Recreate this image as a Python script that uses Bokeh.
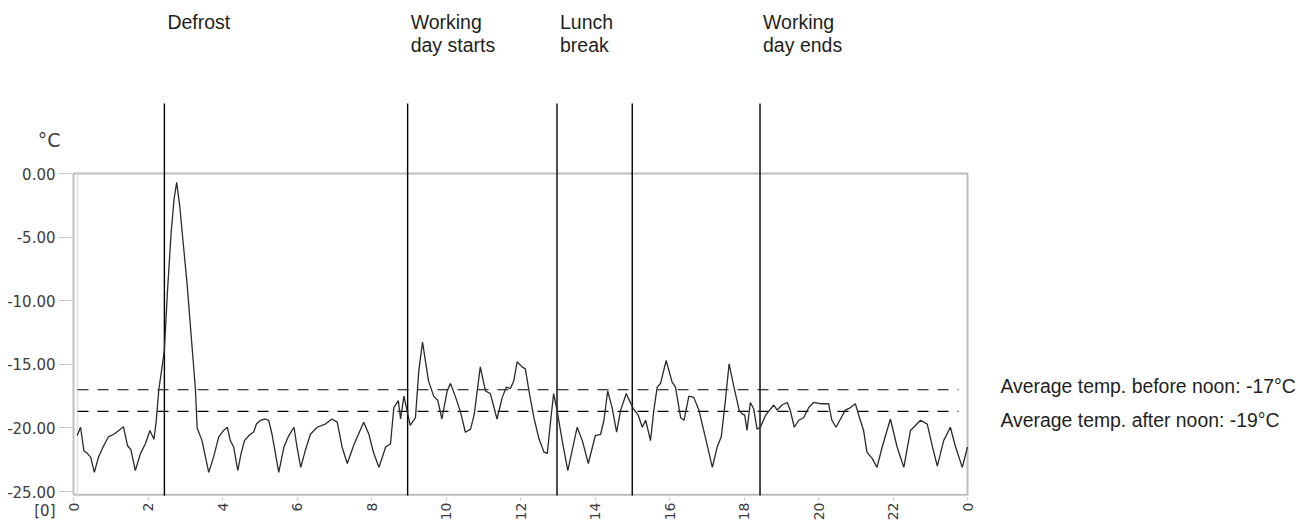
import math
from bokeh.plotting import figure
from bokeh.models import FixedTicker, NumeralTickFormatter, Range1d
from bokeh.core.properties import value
from bokeh.embed import file_html
from bokeh.resources import INLINE

# ---------------- data ----------------
hours = [0.10, 0.19, 0.28, 0.37, 0.46, 0.56, 0.67, 0.81, 0.94, 1.08, 1.22, 1.34, 1.45, 1.54, 1.66,
         1.80, 1.93, 2.05, 2.16, 2.22, 2.29, 2.44, 2.52, 2.62, 2.70, 2.77, 2.85, 2.92, 3.05, 3.19,
         3.27, 3.32, 3.45, 3.63, 3.76, 3.90, 4.03, 4.13, 4.21, 4.30, 4.41, 4.50, 4.59, 4.71, 4.84,
         4.91, 5.02, 5.15, 5.24, 5.33, 5.42, 5.51, 5.65, 5.78, 5.92, 6.00, 6.10, 6.22, 6.36, 6.54,
         6.76, 6.94, 7.08, 7.21, 7.35, 7.53, 7.79, 7.93, 8.06, 8.20, 8.38, 8.51, 8.60, 8.72, 8.78,
         8.87, 9.04, 9.18, 9.27, 9.37, 9.53, 9.67, 9.78, 9.89, 10.03, 10.12, 10.26, 10.39, 10.52,
         10.66, 10.76, 10.92, 11.06, 11.19, 11.37, 11.51, 11.62, 11.73, 11.82, 11.91, 12.04, 12.13,
         12.24, 12.36, 12.50, 12.63, 12.72, 12.81, 12.89, 12.98, 13.12, 13.27, 13.52, 13.66, 13.82,
         14.01, 14.15, 14.24, 14.34, 14.46, 14.58, 14.69, 14.84, 14.90, 15.03, 15.16, 15.27, 15.36,
         15.49, 15.58, 15.67, 15.76, 15.91, 16.07, 16.16, 16.30, 16.39, 16.52, 16.65, 16.79, 16.96,
         17.15, 17.28, 17.39, 17.50, 17.60, 17.73, 17.87, 17.95, 18.02, 18.08, 18.17, 18.26, 18.35,
         18.44, 18.58, 18.80, 18.89, 19.02, 19.16, 19.24, 19.35, 19.47, 19.60, 19.74, 19.87, 20.05,
         20.27, 20.36, 20.47, 20.59, 20.72, 20.86, 20.99, 21.08, 21.21, 21.30, 21.44, 21.57, 21.71,
         21.93, 22.11, 22.29, 22.47, 22.74, 22.92, 23.06, 23.19, 23.36, 23.54, 23.68, 23.86, 24.00]
temps = [-20.6, -19.95, -21.8, -22.0, -22.3, -23.5, -22.3, -21.4, -20.7, -20.5, -20.2, -19.9, -21.4, -21.7, -23.35,
         -22.0, -21.25, -20.2, -20.9, -19.5, -17.0, -13.9, -9.4, -4.7, -2.0, -0.7, -2.5, -4.7, -8.7, -13.9,
         -16.8, -20.0, -21.0, -23.5, -22.3, -20.7, -20.2, -19.95, -21.0, -21.5, -23.35, -22.0, -21.0, -20.6, -20.3,
         -19.7, -19.4, -19.3, -19.4, -20.5, -22.0, -23.5, -21.5, -20.6, -19.95, -21.5, -23.1, -21.8, -20.5, -19.95,
         -19.7, -19.3, -19.55, -21.5, -22.8, -21.3, -19.55, -20.5, -22.0, -23.1, -21.5, -21.25, -18.4, -17.85, -19.3,
         -17.5, -19.8, -19.2, -15.5, -13.26, -16.3, -17.5, -17.85, -19.3, -17.1, -16.5, -17.6, -18.76, -20.34,
         -20.1, -18.9, -15.2, -17.1, -17.3, -19.3, -17.6, -16.8, -16.9, -16.3, -14.8, -15.2, -15.36,
         -17.3, -19.2, -20.9, -21.9, -22.0, -19.4, -17.3, -18.6, -21.0, -23.35, -19.95, -21.0, -22.8,
         -20.6, -20.5, -19.4, -17.1, -18.4, -20.34, -18.6, -17.3, -17.7, -18.5, -19.0, -19.95, -19.4,
         -21.0, -18.6, -16.8, -16.5, -14.7, -16.4, -16.8, -19.2, -19.4, -17.5, -17.6, -18.6, -20.7,
         -23.1, -21.5, -20.7, -17.85, -14.96, -16.8, -18.6, -18.9, -19.0, -20.2, -18.0, -18.5, -20.1,
         -19.95, -19.0, -18.2, -18.6, -18.2, -18.0, -18.6, -19.95, -19.4, -19.2, -18.4, -18.0, -18.1,
         -18.1, -19.4, -19.95, -19.3, -18.6, -18.4, -18.1, -19.0, -20.2, -21.9, -22.4, -23.1, -21.5,
         -19.3, -21.5, -23.1, -20.2, -19.4, -19.7, -21.5, -23.0, -21.0, -19.95, -21.5, -23.1, -21.5]

event_hours = [2.44, 8.97, 12.98, 15.0, 18.43]
label_hours = [2.44, 8.97, 12.98, 18.43]
label_line1 = ["Defrost", "Working", "Lunch", "Working"]
label_line2 = ["", "day starts", "break", "day ends"]
avg_values = [-17.0, -18.7]
avg_labels = ["Average temp. before noon: -17°C", "Average temp. after noon: -19°C"]
x_ticks = [0, 2, 4, 6, 8, 10, 12, 14, 16, 18, 20, 22, 24]
x_tick_overrides = {24: "0"}
y_ticks = [0, -5, -10, -15, -20, -25]
unit_label = ["°C"]
day_label = ["[0]"]

# ---------------- layout (canvas pixel geometry) ----------------
W, H = 1302, 522
PXH = 37.25          # px per hour
PXT = 12.72          # px per degree
X0_PX = 73           # canvas x of hour 0
Y0_PX = 173          # canvas y of 0 degrees


def hx(px):  # canvas x -> hours
    return (px - X0_PX) / PXH


def ty(py):  # canvas y -> degrees
    return (Y0_PX - py) / PXT


FONT = value("Liberation Sans")
TXT = "#231f20"
AXC = "#3c3c3c"

p = figure(width=W, height=H, x_range=Range1d(hx(0), hx(W)), y_range=Range1d(ty(H), ty(0)),
           output_backend="svg", toolbar_location=None,
           min_border_left=0, min_border_right=0, min_border_top=0, min_border_bottom=0)
p.outline_line_color = None
p.grid.visible = False
p.background_fill_color = "white"
p.border_fill_color = "white"

# frame box
p.quad(left=x_ticks[0], right=x_ticks[-1], top=y_ticks[0], bottom=y_ticks[-1] - 0.25,
       fill_color=None, line_color="#bdbdbd", line_width=2)
p.segment(x0=[hx(77)], x1=[hx(77)], y0=[y_ticks[0]], y1=[y_ticks[-1] - 0.25],
          line_color="#e0e0e0", line_width=1.5)

# average dashed lines
p.segment(x0=[hx(77)] * 2, x1=[hx(958)] * 2, y0=avg_values, y1=avg_values,
          line_color="black", line_width=1.1, line_dash="11 9")

# event vertical lines
p.segment(x0=event_hours, x1=event_hours, y0=[ty(495)] * len(event_hours), y1=[ty(103)] * len(event_hours),
          line_color="black", line_width=1.4)

# temperature curve
p.line(hours, temps, line_color="#2a2a2a", line_width=1.3)

# top event labels
p.text(x=label_hours, y=[ty(21)] * len(label_hours), text=label_line1, x_offset=3,
       text_baseline="middle", text_align="left", text_font=FONT, text_font_size="19.5px", text_color=TXT)
p.text(x=label_hours, y=[ty(44)] * len(label_hours), text=label_line2, x_offset=3,
       text_baseline="middle", text_align="left", text_font=FONT, text_font_size="19.5px", text_color=TXT)

# right labels
p.text(x=[hx(1000)] * 2, y=[ty(385), ty(419)], text=avg_labels,
       text_baseline="middle", text_align="left", text_font=FONT, text_font_size="19.4px", text_color=TXT)

# unit and day labels
p.text(x=[hx(60)], y=[ty(139)], text=unit_label, text_align="right", text_baseline="middle",
       text_font=value("DejaVu Sans"), text_font_size="19px", text_color=AXC)
p.text(x=[hx(55)], y=[ty(510)], text=day_label, text_align="right", text_baseline="middle",
       text_font=value("DejaVu Sans"), text_font_size="15px", text_color=AXC)

# axes (fixed inside the canvas)
ax = p.xaxis[0]
ax.fixed_location = ty(497)
ax.ticker = FixedTicker(ticks=x_ticks)
ax.major_label_overrides = x_tick_overrides
ax.major_label_orientation = math.pi / 2
ax.axis_line_color = None
ax.major_tick_out = 3
ax.major_tick_in = 0
ax.major_tick_line_color = "#c8c8c8"
ax.minor_tick_line_color = None
ax.major_label_standoff = 2
ax.major_label_text_font = "DejaVu Sans"
ax.major_label_text_font_size = "14px"
ax.major_label_text_color = AXC

ay = p.yaxis[0]
ay.fixed_location = hx(71)
ay.ticker = FixedTicker(ticks=y_ticks)
ay.formatter = NumeralTickFormatter(format="0.00")
ay.axis_line_color = None
ay.major_tick_out = 13
ay.major_tick_in = 0
ay.major_tick_line_color = "#c8c8c8"
ay.minor_tick_line_color = None
ay.major_label_standoff = 3
ay.major_label_text_font = "DejaVu Sans"
ay.major_label_text_font_size = "15px"
ay.major_label_text_color = AXC

open("out.html", "w").write(file_html(p, INLINE))
